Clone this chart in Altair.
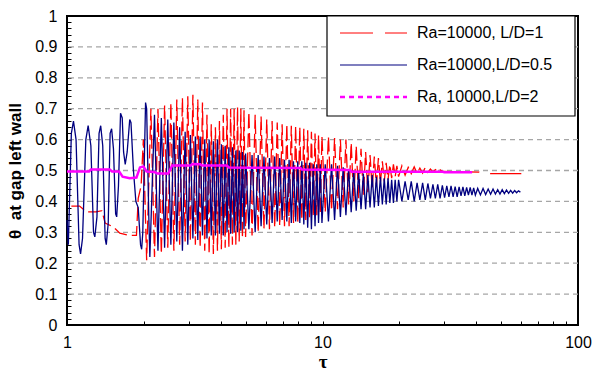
import altair as alt
import pandas as pd

# ---------------- data ----------------
# Ra=10000, L/D=0.5 (navy), early part
tau_early_ld05 = [1.000, 1.012, 1.040, 1.060, 1.085, 1.115, 1.130, 1.150, 1.185, 1.210,
                  1.240, 1.270, 1.285, 1.310, 1.335, 1.355, 1.380, 1.410, 1.425, 1.450,
                  1.475, 1.495, 1.520, 1.550, 1.565, 1.590, 1.620, 1.645, 1.665, 1.690,
                  1.720, 1.760, 1.780, 1.820, 1.860, 1.900, 1.940, 1.960, 1.980, 2.030,
                  2.050, 2.090, 2.110]
theta_early_ld05 = [0.34, 0.26, 0.62, 0.66, 0.60, 0.26, 0.23, 0.28, 0.60, 0.645,
                    0.58, 0.30, 0.285, 0.35, 0.62, 0.645, 0.58, 0.28, 0.26, 0.33,
                    0.62, 0.635, 0.57, 0.36, 0.35, 0.45, 0.685, 0.67, 0.56, 0.52,
                    0.56, 0.665, 0.655, 0.50, 0.40, 0.38, 0.26, 0.245, 0.30, 0.72,
                    0.70, 0.35, 0.22]

# shared sampling times of the oscillating part
tau_grid = [2.20, 2.27, 2.34, 2.41, 2.48, 2.55, 2.62, 2.69, 2.76, 2.83,
            2.90, 2.97, 3.04, 3.11, 3.18, 3.25, 3.32, 3.39, 3.46, 3.53,
            3.60, 3.67, 3.74, 3.81, 3.88, 3.95, 4.02, 4.09, 4.16, 4.23,
            4.30, 4.37, 4.44, 4.51, 4.58, 4.65, 4.72, 4.79, 4.86, 4.93,
            5.00,
            5.15, 5.30, 5.45, 5.60, 5.75, 5.90, 6.05, 6.20, 6.35, 6.50,
            6.65, 6.80, 6.95, 7.10, 7.25, 7.40, 7.55, 7.70, 7.85, 8.00,
            8.15, 8.30, 8.45, 8.60, 8.75, 8.90, 9.05, 9.20, 9.35, 9.50,
            9.65, 9.80, 9.95,
            10.25, 10.55, 10.85, 11.15, 11.45, 11.75, 12.05, 12.35, 12.65, 12.95,
            13.25, 13.55, 13.85, 14.15, 14.45, 14.75, 15.05, 15.35, 15.65, 15.95,
            16.25, 16.55, 16.85, 17.15, 17.45, 17.75, 18.05, 18.35, 18.65, 18.95,
            19.25, 19.55, 19.85,
            20.45, 21.05, 21.65, 22.25, 22.85, 23.45, 24.05, 24.65, 25.25, 25.85,
            26.45, 27.05, 27.65, 28.25, 28.85, 29.45, 30.05, 30.65, 31.25, 31.85,
            32.45, 33.05, 33.65, 34.25, 34.85, 35.45, 36.05, 36.65, 37.25, 37.85,
            38.45, 39.05, 39.65,
            40.5, 41.5, 42.5, 43.5, 44.5, 45.5, 46.5, 47.5, 48.5, 49.5,
            50.5, 51.5, 52.5, 53.5, 54.5, 55.5, 56.5, 57.5, 58.5, 59.5]

theta_ld05 = [0.68, 0.24, 0.67, 0.25, 0.665, 0.26, 0.655, 0.27, 0.64, 0.24,
              0.625, 0.26, 0.615, 0.28, 0.61, 0.275, 0.61, 0.29, 0.60, 0.28,
              0.60, 0.29, 0.595, 0.29, 0.60, 0.295, 0.585, 0.29, 0.58, 0.30,
              0.575, 0.295, 0.575, 0.30, 0.565, 0.30, 0.565, 0.305, 0.56, 0.31,
              0.555,
              0.31, 0.55, 0.30, 0.55, 0.32, 0.545, 0.325, 0.54, 0.33, 0.545,
              0.335, 0.54, 0.34, 0.535, 0.335, 0.535, 0.33, 0.53, 0.335, 0.53,
              0.33, 0.53, 0.325, 0.525, 0.315, 0.525, 0.31, 0.52, 0.32, 0.52,
              0.33, 0.52, 0.33,
              0.52, 0.335, 0.52, 0.34, 0.515, 0.35, 0.51, 0.355, 0.505, 0.365,
              0.50, 0.37, 0.495, 0.375, 0.49, 0.375, 0.485, 0.38, 0.485, 0.38,
              0.48, 0.385, 0.48, 0.39, 0.475, 0.39, 0.475, 0.395, 0.47, 0.395,
              0.47, 0.40, 0.47,
              0.40, 0.465, 0.405, 0.465, 0.40, 0.46, 0.405, 0.46, 0.405, 0.458,
              0.41, 0.455, 0.41, 0.455, 0.41, 0.452, 0.412, 0.45, 0.415, 0.45,
              0.415, 0.448, 0.415, 0.447, 0.418, 0.447, 0.418, 0.445, 0.42, 0.445,
              0.42, 0.444, 0.42,
              0.442, 0.421, 0.442, 0.422, 0.44, 0.423, 0.44, 0.424, 0.438, 0.424,
              0.438, 0.425, 0.437, 0.426, 0.436, 0.427, 0.435, 0.428, 0.434, 0.43]

# Ra=10000, L/D=1 (red), early part, oscillating part on tau_grid, and tail
tau_early_ld1 = [1.04, 1.12, 1.19, 1.30, 1.37, 1.41, 1.52, 1.61, 1.76, 1.87,
                 1.90, 1.95, 1.99, 2.05, 2.13]
theta_early_ld1 = [0.385, 0.385, 0.366, 0.366, 0.37, 0.33, 0.317, 0.297, 0.29, 0.29,
                   0.41, 0.45, 0.60, 0.21, 0.70]
theta_ld1 = [0.22, 0.70, 0.23, 0.71, 0.25, 0.72, 0.24, 0.73, 0.26, 0.735,
             0.27, 0.74, 0.27, 0.745, 0.26, 0.73, 0.25, 0.72, 0.24, 0.68,
             0.23, 0.65, 0.23, 0.64, 0.24, 0.66, 0.245, 0.68, 0.25, 0.70,
             0.25, 0.70, 0.26, 0.70, 0.26, 0.705, 0.27, 0.70, 0.28, 0.695,
             0.285,
             0.69, 0.29, 0.68, 0.30, 0.675, 0.31, 0.665, 0.31, 0.66, 0.315,
             0.655, 0.32, 0.65, 0.32, 0.65, 0.32, 0.645, 0.33, 0.645, 0.33,
             0.64, 0.34, 0.635, 0.34, 0.63, 0.345, 0.625, 0.35, 0.62, 0.355,
             0.615, 0.36, 0.61,
             0.365, 0.61, 0.37, 0.605, 0.375, 0.60, 0.38, 0.60, 0.39, 0.59,
             0.40, 0.58, 0.41, 0.57, 0.42, 0.56, 0.43, 0.55, 0.44, 0.545,
             0.45, 0.54, 0.46, 0.53, 0.465, 0.525, 0.47, 0.52, 0.475, 0.52,
             0.48, 0.515, 0.48,
             0.515, 0.485, 0.51, 0.49, 0.512, 0.49, 0.508, 0.492, 0.51, 0.494,
             0.505, 0.495, 0.503, 0.496, 0.502, 0.497]
tau_tail_ld1 = [29.45, 41.0, 43.0, 60.0]
theta_tail_ld1 = [0.497, 0.495, 0.49, 0.49]

# Ra, 10000, L/D=2 (magenta)
tau_ld2 = [1.0, 1.22, 1.24, 1.47, 1.50, 1.60, 1.65, 1.76, 1.87, 1.93,
           1.99, 2.05, 2.20, 2.26, 2.49, 2.58, 3.05, 3.10, 3.32, 3.38,
           4.22, 4.30, 8.20, 8.30, 12.8, 13.0, 29.6, 30.0, 38.5]
theta_ld2 = [0.497, 0.497, 0.503, 0.503, 0.497, 0.497, 0.48, 0.475, 0.477, 0.51,
             0.513, 0.497, 0.495, 0.49, 0.49, 0.516, 0.516, 0.521, 0.52, 0.516,
             0.516, 0.51, 0.508, 0.503, 0.502, 0.496, 0.496, 0.494, 0.494]

legend_labels = ["Ra=10000, L/D=1", "Ra=10000,L/D=0.5", "Ra, 10000,L/D=2"]
grid_values = [0.1, 0.2, 0.3, 0.4, 0.5, 0.6, 0.7, 0.8, 0.9]
x_ticks = [1, 2, 3, 4, 5, 6, 7, 8, 9, 10, 20, 30, 40, 50, 60, 70, 80, 90, 100]
y_ticks = [round(i * 0.02, 2) for i in range(51)]

# ---------------- chart ----------------
FONT = "Liberation Sans"
RED, NAVY, MAGENTA = "#ff0000", "#000080", "#ff00ff"

x_enc = alt.X(
    "tau:Q",
    title="τ",
    scale=alt.Scale(type="log", domain=[1, 100], nice=False),
    axis=alt.Axis(
        values=x_ticks, format="~g",
        labelExpr="(datum.value == 1 || datum.value == 10 || datum.value == 100) ? datum.label : ''",
        tickSize=4, offset=-4, domain=False, grid=False, tickColor="black", tickWidth=1,
        labelPadding=9, labelFlush=False, labelOverlap=False, labelFont=FONT,
        labelFontSize=16, labelColor="black",
        titleFont="Liberation Serif", titleFontSize=19, titleFontWeight="bold",
        titleColor="black", titlePadding=2,
    ),
)
y_enc = alt.Y(
    "theta:Q",
    title="θ\u00a0\u00a0at gap left wall",
    scale=alt.Scale(domain=[0, 1], nice=False, zero=False),
    axis=alt.Axis(
        values=y_ticks, format="~g",
        labelExpr="abs(datum.value * 10 - round(datum.value * 10)) < 0.001 ? datum.label : ''",
        tickSize=4, offset=-4, domain=False, grid=False, tickColor="black", tickWidth=1,
        labelPadding=10, labelOverlap=False, labelFont=FONT, labelFontSize=16,
        labelColor="black", labelFlush=False,
        titleFont=FONT, titleFontSize=17, titleFontWeight="bold", titleColor="black",
        titlePadding=10,
    ),
)

grid = alt.Chart(pd.DataFrame({"theta": grid_values})).mark_rule(
    color="#a6a6a6", strokeWidth=1.3, strokeDash=[5, 4]
).encode(y=y_enc)

red_df = pd.DataFrame({"tau": tau_early_ld1 + tau_grid[:len(theta_ld1)],
                       "theta": theta_early_ld1 + theta_ld1})
red = alt.Chart(red_df).mark_line(color=RED, strokeWidth=1.3, strokeDash=[14, 5]).encode(
    x=x_enc, y=y_enc)
red_tail = alt.Chart(pd.DataFrame({"tau": tau_tail_ld1, "theta": theta_tail_ld1})).mark_line(
    color=RED, strokeWidth=1.3, strokeDash=[37, 11]).encode(x=x_enc, y=y_enc)

navy_df = pd.DataFrame({"tau": tau_early_ld05 + tau_grid,
                        "theta": theta_early_ld05 + theta_ld05})
navy = alt.Chart(navy_df).mark_line(color=NAVY, strokeWidth=1.3).encode(x=x_enc, y=y_enc)

mag = alt.Chart(pd.DataFrame({"tau": tau_ld2, "theta": theta_ld2})).mark_line(
    color=MAGENTA, strokeWidth=2.5).encode(x=x_enc, y=y_enc)

# legend box drawn by hand
one = pd.DataFrame({"k": [0]})
legend_box = alt.Chart(one).mark_rect(fill="white", stroke="black", strokeWidth=1.2).encode(
    x=alt.value(260), x2=alt.value(508), y=alt.value(0), y2=alt.value(100))

legend_styles = [
    dict(color=RED, strokeWidth=1, strokeDash=[33, 12]),
    dict(color=NAVY, strokeWidth=1.2),
    dict(color=MAGENTA, strokeWidth=2.5, strokeDash=[5, 4]),
]
row_y = [17, 49, 81]
legend_layers = []
for label, style, ry in zip(legend_labels, legend_styles, row_y):
    legend_layers.append(
        alt.Chart(one).mark_rule(**style).encode(
            x=alt.value(273), x2=alt.value(340), y=alt.value(ry))
    )
    legend_layers.append(
        alt.Chart(pd.DataFrame({"label": [label]})).mark_text(
            align="left", baseline="middle", font=FONT, fontSize=16, color="black"
        ).encode(x=alt.value(350), y=alt.value(ry), text="label:N")
    )

chart = alt.layer(grid, red, red_tail, navy, mag, legend_box, *legend_layers).properties(
    width=511, height=309,
    autosize=alt.AutoSizeParams(type="none"),
    padding={"left": 67, "top": 16, "right": 17, "bottom": 45},
    background="white",
).configure_view(stroke="black", strokeWidth=2)

chart.save("out.html", embed_options={"renderer": "svg", "actions": False})
